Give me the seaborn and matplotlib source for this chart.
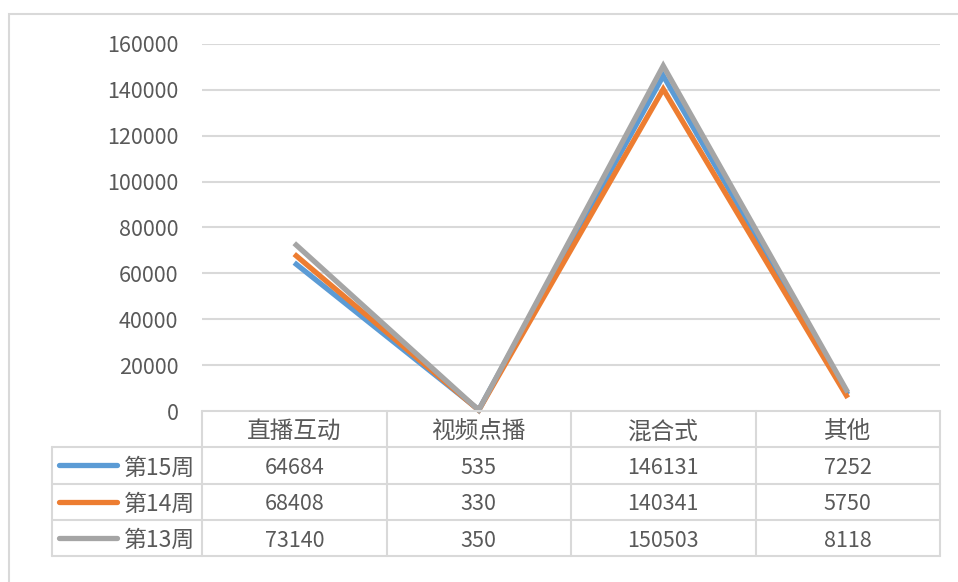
import numpy as np
import pandas as pd
import seaborn as sns
from matplotlib import pyplot as plt
from matplotlib.lines import Line2D
from matplotlib.patches import Rectangle
from matplotlib.transforms import blended_transform_factory

# data
categories = ['直播互动', '视频点播', '混合式', '其他']
weeks = ['第15周', '第14周', '第13周']
week15 = [64684, 535, 146131, 7252]
week14 = [68408, 330, 140341, 5750]
week13 = [73140, 350, 150503, 8118]
colors = ['#5B9BD5', '#ED7D31', '#A5A5A5']

df = pd.DataFrame({
    'cat': categories * 3,
    'week': [w for w in weeks for _ in categories],
    'value': week15 + week14 + week13,
})

sns.set_style('white')
plt.rcParams['font.family'] = ['Noto Sans CJK SC', 'DejaVu Sans']
text_color = '#595959'
grid_color = '#D9D9D9'
fs_num = 15.5   # digits
fs_cjk = 17     # category headers
fs_leg = 16.5   # series names

W, H = 958, 582
fig = plt.figure(figsize=(W / 100, H / 100), dpi=100)

# plot area in pixels
left, right, top, bottom = 202, 940, 44, 411
ax = fig.add_axes([left / W, 1 - bottom / H, (right - left) / W, (bottom - top) / H])

sns.lineplot(data=df, x='cat', y='value', hue='week', hue_order=weeks,
             palette=colors, linewidth=3.8, sort=False, legend=False, ax=ax)
for ln in ax.get_lines():
    ln.set_solid_joinstyle('miter')
    ln.set_solid_capstyle('butt')
    ln.set_clip_on(False)

ax.set_xlim(-0.5, len(categories) - 0.5)
ax.set_ylim(0, 160000)
ax.set_yticks(np.arange(0, 160001, 20000))
ax.set_yticklabels([str(v) for v in range(0, 160001, 20000)], color=text_color, fontsize=fs_num)
ax.tick_params(axis='y', length=0, pad=17)
ax.set_xticks([])
ax.set_xlabel('')
ax.set_ylabel('')
for s in ax.spines.values():
    s.set_visible(False)
for v in range(20000, 160001, 20000):
    ax.axhline(v, color=grid_color, lw=1.5, zorder=0)

# outer chart border
fig.patches.append(Rectangle((9 / W, -0.1), 1.1, 1 - 14 / H + 0.1, transform=fig.transFigure,
                             fill=False, edgecolor=grid_color, lw=1.5))

# data table below the axis
px = fig.transFigure
trans = blended_transform_factory(ax.transData, px)
row_h = 36.3
rows_y = [bottom + i * row_h for i in range(5)]
tab_left = 52
txt_dy = 2.5  # nudge text down a bit inside the cells
yf = lambda y: 1 - y / H

def hline(x0, x1, y, tr):
    fig.add_artist(Line2D([x0, x1], [yf(y), yf(y)], transform=tr, color=grid_color, lw=1.5))

def vline(x, y0, y1, tr):
    fig.add_artist(Line2D([x, x], [yf(y0), yf(y1)], transform=tr, color=grid_color, lw=1.5))

hline(-0.5, len(categories) - 0.5, rows_y[0], trans)
for y in rows_y[1:]:
    fig.add_artist(Line2D([tab_left / W, right / W], [yf(y), yf(y)], transform=px,
                          color=grid_color, lw=1.5))
vline(tab_left / W, rows_y[1], rows_y[4], px)
for i in range(len(categories) + 1):
    vline(i - 0.5, rows_y[0], rows_y[4], trans)

for i, c in enumerate(categories):
    fig.text(i, yf(rows_y[0] + row_h / 2 + txt_dy), c, transform=trans, ha='center',
             va='center', color=text_color, fontsize=fs_cjk)

series = [week15, week14, week13]
for r, (name, vals, col) in enumerate(zip(weeks, series, colors)):
    yc = yf(rows_y[r + 1] + row_h / 2)
    yt = yf(rows_y[r + 1] + row_h / 2 + txt_dy)
    fig.add_artist(Line2D([59 / W, 117 / W], [yc, yc], transform=px, color=col, lw=3.8,
                          solid_capstyle='round'))
    fig.text(124 / W, yt, name, ha='left', va='center', color=text_color, fontsize=fs_leg)
    for i, v in enumerate(vals):
        fig.text(i, yt, str(v), transform=trans, ha='center', va='center',
                 color=text_color, fontsize=fs_num)

fig.savefig('out.png', dpi=100)
